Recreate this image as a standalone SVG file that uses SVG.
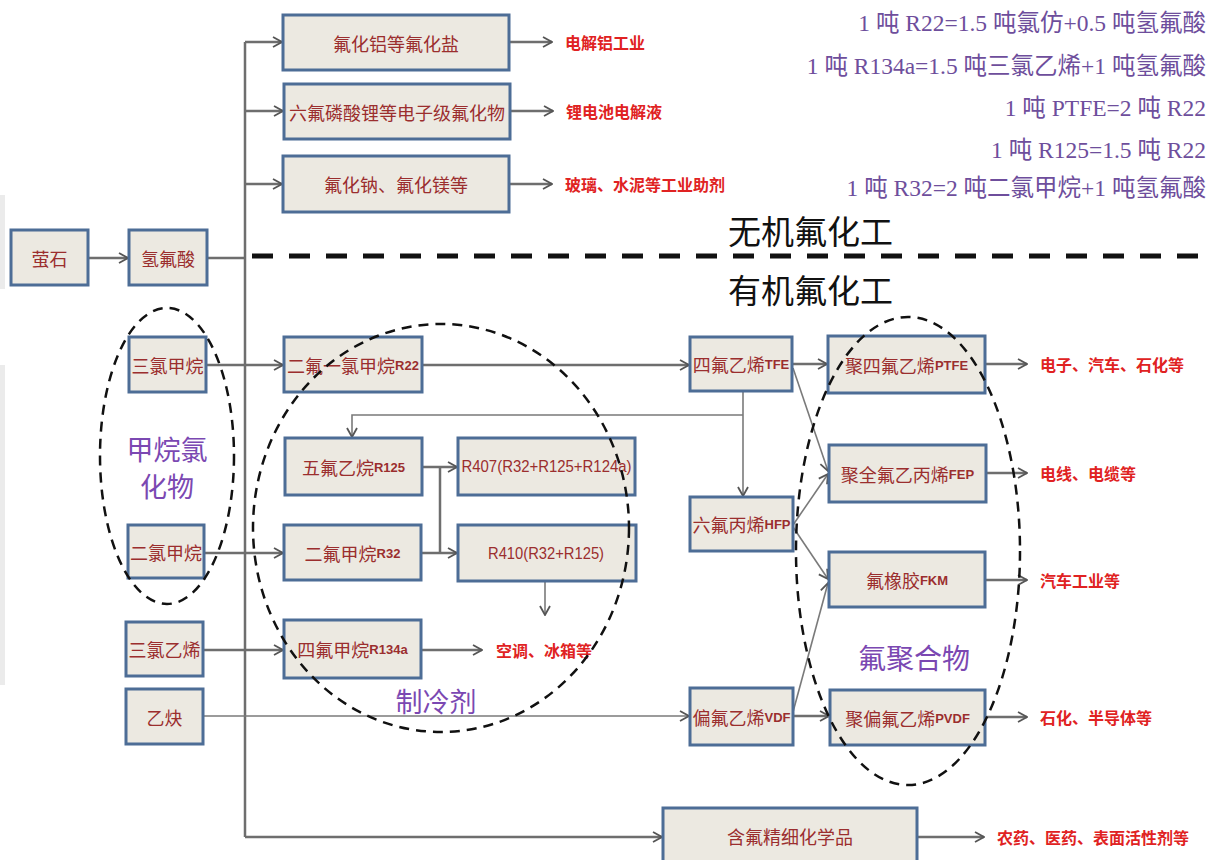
<svg xmlns="http://www.w3.org/2000/svg" width="1208" height="860" viewBox="0 0 1208 860">
<defs>
<style>
.box{fill:#ece9e1;stroke:#4d6d96;stroke-width:3}
.bt{font-family:"Noto Sans CJK SC","Noto Sans",sans-serif;font-size:18px;fill:#9b2e2e;text-anchor:middle;dominant-baseline:central}
.lat{font-family:"Liberation Sans",Arial,sans-serif;font-size:13px;font-weight:bold}
.mix{font-family:"Liberation Sans",Arial,sans-serif;font-size:16px}
.rt{font-family:"Noto Sans CJK SC","Noto Sans",sans-serif;font-size:16px;font-weight:bold;fill:#e02222;dominant-baseline:central}
.ft{font-family:"Liberation Serif","Noto Sans CJK SC",serif;font-size:23.5px;fill:#6e4e9c;text-anchor:end}
.pl{font-family:"Noto Sans CJK SC",sans-serif;font-size:27px;fill:#7b48b2;text-anchor:middle;dominant-baseline:central}
.hd{font-family:"Noto Sans CJK SC",sans-serif;font-size:33px;fill:#111}
.ln{fill:none;stroke:#6e6e6e;stroke-width:2.5}
.thin{fill:none;stroke:#7a7a7a;stroke-width:1.6}
.dash{fill:none;stroke:#111;stroke-width:2.5;stroke-dasharray:10 7}
</style>
<marker id="arr" viewBox="0 0 12 12" refX="11" refY="6" markerWidth="12" markerHeight="12" markerUnits="userSpaceOnUse" orient="auto">
<path d="M2,1 L11,6 L2,11" fill="none" stroke="#555" stroke-width="1.8"/>
</marker>
</defs>
<rect width="1208" height="860" fill="#ffffff"/>
<rect x="0" y="195" width="5" height="94" fill="#ebebeb"/>
<rect x="0" y="365" width="5" height="320" fill="#ebebeb"/>

<g id="connectors">
<path class="ln" d="M88,258 H128" marker-end="url(#arr)"/>
<path class="ln" d="M207,258 H245"/>
<path class="ln" d="M245,42 V837"/>
<path class="ln" d="M245,42 H282" marker-end="url(#arr)"/>
<path class="ln" d="M245,111 H283" marker-end="url(#arr)"/>
<path class="ln" d="M245,184 H282" marker-end="url(#arr)"/>
<path class="ln" d="M510,42 H552" marker-end="url(#arr)"/>
<path class="ln" d="M511,111 H553" marker-end="url(#arr)"/>
<path class="ln" d="M510,184 H552" marker-end="url(#arr)"/>
<path class="ln" d="M206,365 H283" marker-end="url(#arr)"/>
<path class="ln" d="M422,365 H689" marker-end="url(#arr)"/>
<path class="thin" d="M743,391 V496" marker-end="url(#arr)"/>
<path class="thin" d="M743,415 H352 V437" marker-end="url(#arr)"/>
<path class="ln" d="M422,467 H457" marker-end="url(#arr)"/>
<path class="ln" d="M421,553 H457" marker-end="url(#arr)"/>
<path class="ln" d="M440,467 V553"/>
<path class="ln" d="M204,553 H283" stroke="#444" marker-end="url(#arr)"/>
<path class="ln" d="M203,650 H283" marker-end="url(#arr)"/>
<path class="ln" d="M421,650 H482" marker-end="url(#arr)"/>
<path class="thin" d="M545,581 V615" marker-end="url(#arr)"/>
<path class="thin" d="M203,716 H689" stroke="#666" marker-end="url(#arr)"/>
<path class="ln" d="M792,364 H827" marker-end="url(#arr)"/>
<path class="thin" d="M793,368 L828,471" marker-end="url(#arr)"/>
<path class="thin" d="M793,525 L828,474" marker-end="url(#arr)"/>
<path class="thin" d="M793,527 L828,579" marker-end="url(#arr)"/>
<path class="thin" d="M793,712 L828,583" marker-end="url(#arr)"/>
<path class="ln" d="M793,716 H829" marker-end="url(#arr)"/>
<path class="ln" d="M985,364 H1027" marker-end="url(#arr)"/>
<path class="ln" d="M986,473 H1027" marker-end="url(#arr)"/>
<path class="ln" d="M985,580 H1027" marker-end="url(#arr)"/>
<path class="ln" d="M985,717 H1027" marker-end="url(#arr)"/>
<path class="ln" d="M245,837 H662" marker-end="url(#arr)"/>
<path class="ln" d="M917,837 H984" marker-end="url(#arr)"/>
</g>

<path d="M252,256 H1208" fill="none" stroke="#111" stroke-width="5" stroke-dasharray="21 16"/>
<text class="hd" x="728" y="244">无机氟化工</text>
<text class="hd" x="728" y="303">有机氟化工</text>

<g id="formulas">
<text class="ft" x="1206" y="31">1 吨 R22=1.5 吨氯仿+0.5 吨氢氟酸</text>
<text class="ft" x="1206" y="74">1 吨 R134a=1.5 吨三氯乙烯+1 吨氢氟酸</text>
<text class="ft" x="1206" y="116">1 吨 PTFE=2 吨 R22</text>
<text class="ft" x="1206" y="158">1 吨 R125=1.5 吨 R22</text>
<text class="ft" x="1206" y="196">1 吨 R32=2 吨二氯甲烷+1 吨氢氟酸</text>
</g>

<g id="n-yingshi"><rect class="box" x="11" y="230" width="77" height="55"/><text class="bt" x="49.5" y="257.5">萤石</text></g>
<g id="n-hf"><rect class="box" x="129" y="230" width="78" height="55"/><text class="bt" x="168" y="257.5">氢氟酸</text></g>
<g id="n-alf"><rect class="box" x="283" y="15" width="226" height="55"/><text class="bt" x="396" y="42.5">氟化铝等氟化盐</text></g>
<g id="n-lipf6"><rect class="box" x="284" y="84" width="226" height="55"/><text class="bt" x="397" y="111.5">六氟磷酸锂等电子级氟化物</text></g>
<g id="n-naf"><rect class="box" x="283" y="156" width="226" height="56"/><text class="bt" x="396" y="184">氟化钠、氟化镁等</text></g>

<g id="t-al"><text class="rt" x="565" y="42">电解铝工业</text></g>
<g id="t-li"><text class="rt" x="566" y="111">锂电池电解液</text></g>
<g id="t-glass"><text class="rt" x="565" y="184">玻璃、水泥等工业助剂</text></g>

<g id="n-chcl3"><rect class="box" x="129" y="337" width="77" height="55"/><text class="bt" x="167.5" y="364.5">三氯甲烷</text></g>
<g id="n-ch2cl2"><rect class="box" x="128" y="525" width="76" height="53"/><text class="bt" x="166" y="551.5">二氯甲烷</text></g>
<g id="n-tce"><rect class="box" x="126" y="622" width="77" height="54"/><text class="bt" x="164.5" y="649">三氯乙烯</text></g>
<g id="n-c2h2"><rect class="box" x="126" y="689" width="77" height="55"/><text class="bt" x="164.5" y="716.5">乙炔</text></g>

<g id="g-methane">
<ellipse class="dash" cx="167" cy="456" rx="67" ry="148"/>
<text class="pl" x="167" y="448">甲烷氯</text>
<text class="pl" x="167" y="485">化物</text>
</g>

<g id="n-r22"><rect class="box" x="284" y="337" width="138" height="55"/><text class="bt" x="353" y="364.5">二氟一氯甲烷<tspan class="lat">R22</tspan></text></g>
<g id="n-r125"><rect class="box" x="285" y="438" width="137" height="57"/><text class="bt" x="353.5" y="466.5">五氟乙烷<tspan class="lat">R125</tspan></text></g>
<g id="n-r32"><rect class="box" x="284" y="525" width="137" height="55"/><text class="bt" x="352.5" y="552.5">二氟甲烷<tspan class="lat">R32</tspan></text></g>
<g id="n-r134a"><rect class="box" x="284" y="620" width="137" height="58"/><text class="bt" x="352.5" y="649">四氟甲烷<tspan class="lat">R134a</tspan></text></g>
<g id="n-r407"><rect class="box" x="458" y="438" width="177" height="57"/><text class="bt mix" x="546.5" y="466.5" textLength="170" lengthAdjust="spacingAndGlyphs">R407(R32+R125+R124a)</text></g>
<g id="n-r410"><rect class="box" x="458" y="525" width="178" height="56"/><text class="bt mix" x="546" y="553" textLength="116" lengthAdjust="spacingAndGlyphs">R410(R32+R125)</text></g>
<g id="t-ac"><text class="rt" x="496" y="650">空调、冰箱等</text></g>

<g id="g-refrig">
<ellipse class="dash" cx="441" cy="528" rx="188" ry="204"/>
<text class="pl" x="436" y="700">制冷剂</text>
</g>

<g id="n-tfe"><rect class="box" x="690" y="337" width="102" height="54"/><text class="bt" x="741" y="364">四氟乙烯<tspan class="lat">TFE</tspan></text></g>
<g id="n-hfp"><rect class="box" x="690" y="497" width="103" height="54"/><text class="bt" x="741.5" y="524">六氟丙烯<tspan class="lat">HFP</tspan></text></g>
<g id="n-vdf"><rect class="box" x="690" y="688" width="103" height="57"/><text class="bt" x="741.5" y="716.5">偏氟乙烯<tspan class="lat">VDF</tspan></text></g>

<g id="n-ptfe"><rect class="box" x="828" y="336" width="157" height="57"/><text class="bt" x="906.5" y="364.5">聚四氟乙烯<tspan class="lat">PTFE</tspan></text></g>
<g id="n-fep"><rect class="box" x="829" y="445" width="157" height="57"/><text class="bt" x="907.5" y="473.5">聚全氟乙丙烯<tspan class="lat">FEP</tspan></text></g>
<g id="n-fkm"><rect class="box" x="829" y="552" width="156" height="55"/><text class="bt" x="907" y="579.5">氟橡胶<tspan class="lat">FKM</tspan></text></g>
<g id="n-pvdf"><rect class="box" x="830" y="690" width="155" height="55"/><text class="bt" x="907.5" y="717.5">聚偏氟乙烯<tspan class="lat">PVDF</tspan></text></g>

<g id="g-polymer">
<ellipse class="dash" cx="908" cy="551" rx="112" ry="234"/>
<text class="pl" x="914" y="657" style="font-size:28px">氟聚合物</text>
</g>

<g id="t-ptfe"><text class="rt" x="1040" y="364">电子、汽车、石化等</text></g>
<g id="t-fep"><text class="rt" x="1040" y="473">电线、电缆等</text></g>
<g id="t-fkm"><text class="rt" x="1040" y="580">汽车工业等</text></g>
<g id="t-pvdf"><text class="rt" x="1040" y="717">石化、半导体等</text></g>

<g id="n-fine"><rect class="box" x="663" y="808" width="254" height="56"/><text class="bt" x="790" y="836">含氟精细化学品</text></g>
<g id="t-fine"><text class="rt" x="997" y="837">农药、医药、表面活性剂等</text></g>
</svg>
